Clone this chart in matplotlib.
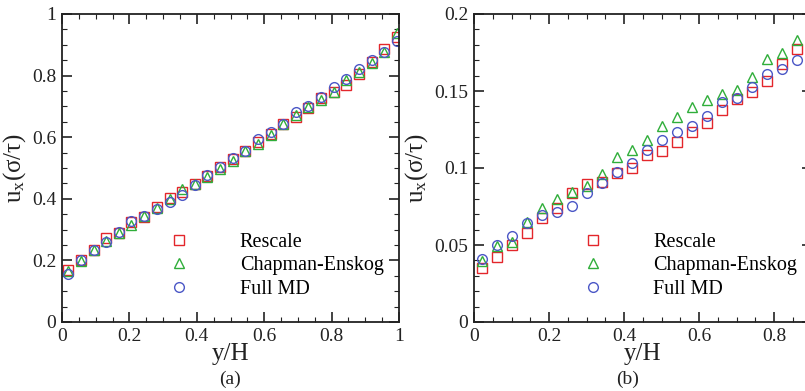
import numpy as np
import matplotlib
matplotlib.use("Agg")
import matplotlib.pyplot as plt
from matplotlib.ticker import MultipleLocator

plt.rcParams['font.family'] = ['Liberation Serif', 'DejaVu Serif']
plt.rcParams['mathtext.fontset'] = 'custom'
plt.rcParams['mathtext.rm'] = 'Liberation Serif'
plt.rcParams['mathtext.it'] = 'Liberation Serif:italic'

# panel (a)
y_a = [0.019, 0.056, 0.094, 0.131, 0.169, 0.206, 0.244, 0.281, 0.319, 0.356,
       0.394, 0.431, 0.469, 0.506, 0.544, 0.581, 0.619, 0.656, 0.694, 0.731,
       0.769, 0.806, 0.844, 0.881, 0.919, 0.956, 0.994]
rescale_a = [0.170, 0.200, 0.233, 0.272, 0.288, 0.326, 0.340, 0.374, 0.401, 0.423,
             0.448, 0.474, 0.502, 0.528, 0.555, 0.585, 0.612, 0.643, 0.667, 0.694,
             0.726, 0.748, 0.769, 0.805, 0.845, 0.885, 0.926]
chapman_a = [0.165, 0.198, 0.233, 0.263, 0.290, 0.315, 0.345, 0.371, 0.400, 0.432,
             0.448, 0.472, 0.498, 0.522, 0.555, 0.578, 0.608, 0.643, 0.673, 0.697,
             0.720, 0.748, 0.785, 0.813, 0.840, 0.878, 0.937]
fullmd_a = [0.155, 0.200, 0.233, 0.259, 0.292, 0.328, 0.344, 0.366, 0.391, 0.412,
            0.445, 0.476, 0.503, 0.533, 0.555, 0.593, 0.618, 0.643, 0.681, 0.701,
            0.732, 0.762, 0.788, 0.820, 0.851, 0.878, 0.913]

# panel (b)
y_b = [0.02, 0.06, 0.10, 0.14, 0.18, 0.22, 0.26, 0.30, 0.34, 0.38, 0.42,
       0.46, 0.50, 0.54, 0.58, 0.62, 0.66, 0.70, 0.74, 0.78, 0.82, 0.86]
rescale_b = [0.0353, 0.0424, 0.0500, 0.0576, 0.0673, 0.0738, 0.0835, 0.0896, 0.0910, 0.0965,
             0.0998, 0.1084, 0.1110, 0.1170, 0.1236, 0.1294, 0.1377, 0.1448, 0.1496, 0.1565,
             0.1673, 0.1770]
chapman_b = [0.0398, 0.0496, 0.0520, 0.0650, 0.0738, 0.0797, 0.0842, 0.0883, 0.0959, 0.1070,
             0.1117, 0.1180, 0.1270, 0.1333, 0.1398, 0.1442, 0.1478, 0.1506, 0.1593, 0.1708,
             0.1749, 0.1831]
fullmd_b = [0.0409, 0.0500, 0.0558, 0.0645, 0.0695, 0.0716, 0.0753, 0.0835, 0.0905, 0.0976,
            0.1030, 0.1117, 0.1180, 0.1236, 0.1275, 0.1338, 0.1430, 0.1452, 0.1524, 0.1610,
            0.1640, 0.1701]

labels = ["Rescale", "Chapman-Enskog", "Full MD"]
xticks_a = [0, 0.2, 0.4, 0.6, 0.8, 1]
xticklabels_a = ["0", "0.2", "0.4", "0.6", "0.8", "1"]
yticks_a = [0, 0.2, 0.4, 0.6, 0.8, 1]
yticklabels_a = ["0", "0.2", "0.4", "0.6", "0.8", "1"]
xticks_b = [0, 0.2, 0.4, 0.6, 0.8]
xticklabels_b = ["0", "0.2", "0.4", "0.6", "0.8"]
yticks_b = [0, 0.05, 0.1, 0.15, 0.2]
yticklabels_b = ["0", "0.05", "0.1", "0.15", "0.2"]

RED = "#e3262b"
GREEN = "#2fae3a"
BLUE = "#4b57c6"
INK = "#222222"

fig = plt.figure(figsize=(8.05, 3.91), dpi=100)
W, H = 805.0, 391.0
ax_a = fig.add_axes([62 / W, (391 - 322) / H, 337 / W, 308 / H])
ax_b = fig.add_axes([474 / W, (391 - 322) / H, 337.5 / W, 308 / H])


def style_axes(ax, xticks, xlabels, yticks, ylabels, xminor, yminor):
    ax.set_xticks(xticks, xlabels)
    ax.set_yticks(yticks, ylabels)
    ax.xaxis.set_minor_locator(MultipleLocator(xminor))
    ax.yaxis.set_minor_locator(MultipleLocator(yminor))
    ax.tick_params(which="both", direction="in", top=True, right=True,
                   labelsize=14, width=1.2, colors=INK)
    ax.tick_params(which="major", length=7, pad=4)
    ax.tick_params(which="minor", length=3.5, width=0.8)
    for s in ax.spines.values():
        s.set_linewidth(1.3)
        s.set_color(INK)
    ax.set_xlabel("y/H", fontsize=18, labelpad=-1, color=INK)
    ax.set_ylabel(r"u$_\mathregular{x}$(σ/τ)", fontsize=18, labelpad=3, color=INK)


def draw(ax, x, series, legend_anchor):
    kw = dict(linestyle="none", markerfacecolor="none", markersize=7,
              markeredgewidth=1.0)
    ax.plot(x, series[0], marker="s", color=RED, label=labels[0], **kw)
    ax.plot(x, series[1], marker="^", color=GREEN, label=labels[1], **kw)
    ax.plot(x, series[2], marker="o", color=BLUE, label=labels[2], **kw)
    ax.legend(loc="upper left", bbox_to_anchor=legend_anchor, frameon=False,
              numpoints=1, handlelength=1.0, handletextpad=2.5, labelspacing=0.22,
              borderpad=0, borderaxespad=0, fontsize=14.5)


draw(ax_a, y_a, [rescale_a, chapman_a, fullmd_a], (0.318, 0.29))
ax_a.set_xlim(0, 1)
ax_a.set_ylim(0, 1)
style_axes(ax_a, xticks_a, xticklabels_a, yticks_a, yticklabels_a, 0.05, 0.05)

draw(ax_b, y_b, [rescale_b, chapman_b, fullmd_b], (0.322, 0.29))
ax_b.set_xlim(0, 0.9)
ax_b.set_ylim(0, 0.2)
style_axes(ax_b, xticks_b, xticklabels_b, yticks_b, yticklabels_b, 0.05, 0.01)

fig.text(230 / W, 1 - 379 / H, "(a)", ha="center", va="center", fontsize=14, color=INK)
fig.text(628 / W, 1 - 379 / H, "(b)", ha="center", va="center", fontsize=14, color=INK)

fig.savefig("out.png", dpi=100)
